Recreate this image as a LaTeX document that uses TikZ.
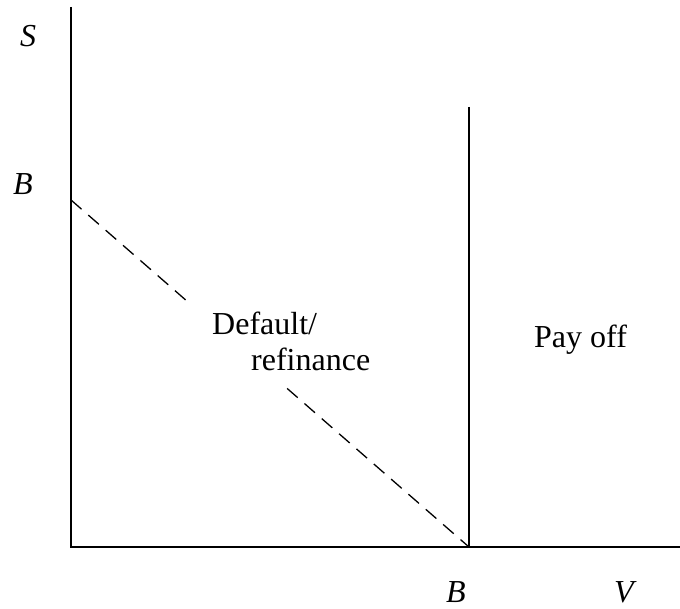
\documentclass[tikz,border=0pt]{standalone}
\usepackage{fontspec}
\setmainfont{Liberation Serif}
\usetikzlibrary{positioning}

\begin{document}
\begin{tikzpicture}[
  x=1pt, y=-1pt,
  every node/.style={inner sep=0pt, font=\fontsize{32}{38}\selectfont},
  lbl/.style={anchor=base west},
  axis/.style={line width=2pt, black},
  bound/.style={line width=1.3pt, dash pattern=on 14pt off 9pt}
]
\useasboundingbox (0,0) rectangle (680,609);
\coordinate (O)    at (71,547);
\coordinate (Stop) at (71,7);
\coordinate (Vend) at (680,547);
\coordinate (Bx)   at (469,547);
\coordinate (Btop) at (469,107);
\coordinate (Bs)   at (71,200);
% axes
\draw[axis] (Stop) -- (O) -- (Vend);
\draw[axis] (Btop) -- (Bx);
% dashed boundary, broken round the label
\path (Bs) -- coordinate[pos=0.304] (g1) coordinate[pos=0.543] (g2) (Bx);
\draw[bound] (Bs) -- (g1);
\draw[bound] (g2) -- (Bx);
\node[lbl] (lS)  at (20,47)   {\textit{S}};
\node[lbl] (lB)  at (13,195)  {\textit{B}};
\node[lbl] (lBx) at (446,602) {\textit{B}};
\node[lbl] (lV)  at (614,602) {\textit{V}};
\node[lbl] (def) at (212,335) {Default/};
\node[lbl] (ref) at (251,371) {refinance};
\node[lbl] (pay) at (534,348) {Pay off};
\end{tikzpicture}
\end{document}
